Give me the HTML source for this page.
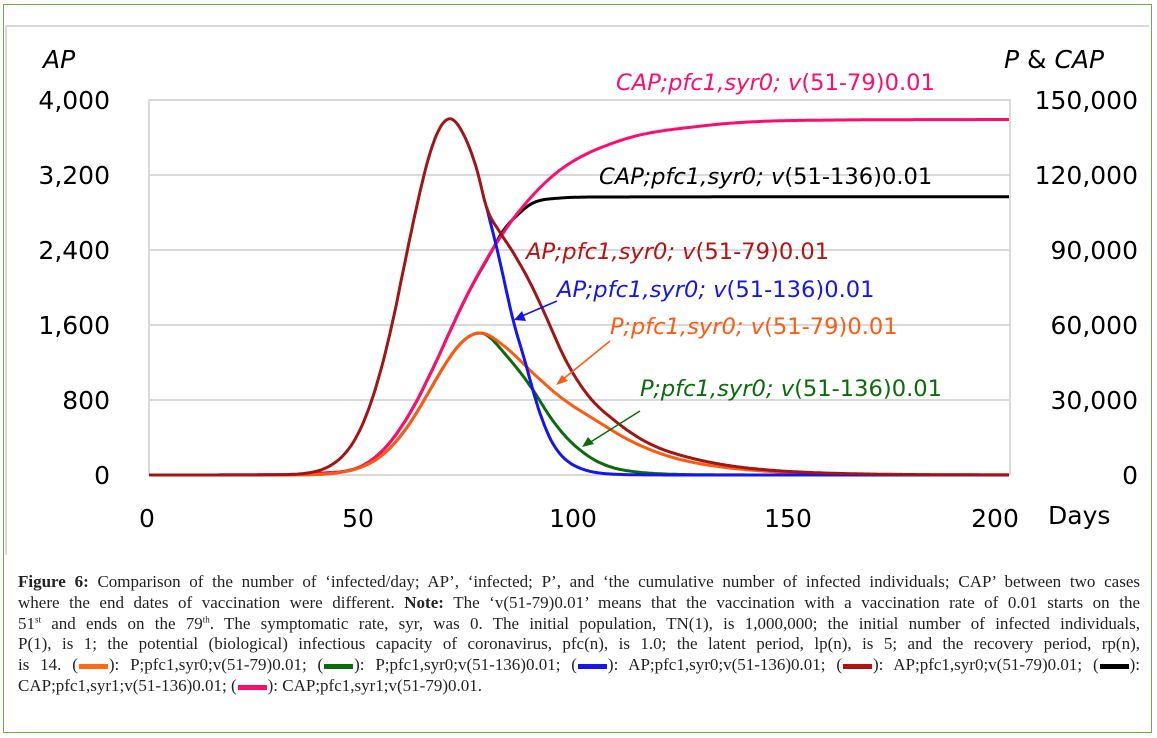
<!DOCTYPE html>
<html><head><meta charset="utf-8"><style>
body{margin:0;width:1157px;height:738px;background:#fff;position:relative;overflow:hidden;font-family:"DejaVu Sans",sans-serif}
#outer{position:absolute;left:3px;top:4px;width:1147px;height:727px;border:1px solid #70ad47}
#inner{position:absolute;left:5px;top:25px;width:1142px;height:528px;border:2px solid #d9d9d9;border-bottom:none;border-right:none}
#cap{position:absolute;left:18px;top:572px;width:1122px;font-family:"Liberation Serif",serif;font-size:17px;line-height:20.8px;color:#222}
#cap div{white-space:nowrap;text-align:justify;text-align-last:justify;height:20.8px}
#cap div.l{text-align-last:left}
.sw{display:inline-block;width:29px;height:5px;vertical-align:middle;margin:0 1px}
sup{font-size:9px;line-height:0}
</style></head><body>
<div id="outer"></div><div id="inner"></div>
<svg id="s" width="1157" height="560" style="position:absolute;left:0;top:0" font-family="DejaVu Sans, sans-serif"></svg>
<div id="cap">
<div><b>Figure 6:</b> Comparison of the number of ‘infected/day; AP’, ‘infected; P’, and ‘the cumulative number of infected individuals; CAP’ between two cases</div>
<div>where the end dates of vaccination were different. <b>Note:</b> The ‘v(51-79)0.01’ means that the vaccination with a vaccination rate of 0.01 starts on the</div>
<div>51<sup>st</sup> and ends on the 79<sup>th</sup>. The symptomatic rate, syr, was 0. The initial population, TN(1), is 1,000,000; the initial number of infected individuals,</div>
<div>P(1), is 1; the potential (biological) infectious capacity of coronavirus, pfc(n), is 1.0; the latent period, lp(n), is 5; and the recovery period, rp(n),</div>
<div>is 14. (<span class="sw" style="background:#ff6a13"></span>): P;pfc1,syr0;v(51-79)0.01; (<span class="sw" style="background:#0b6b0b"></span>): P;pfc1,syr0;v(51-136)0.01; (<span class="sw" style="background:#1515f0"></span>): AP;pfc1,syr0;v(51-136)0.01; (<span class="sw" style="background:#b01515"></span>): AP;pfc1,syr0;v(51-79)0.01; (<span class="sw" style="background:#000"></span>):</div>
<div class="l">CAP;pfc1,syr1;v(51-136)0.01; (<span class="sw" style="background:#ff0d6e"></span>): CAP;pfc1,syr1;v(51-79)0.01.</div>
</div>
<script>
const s=document.getElementById('s');let h='';
const X=d=>149+d*4.3, YL=v=>475-v/800*75, YR=v=>475-v/150000*375;
for(let i=0;i<=5;i++){const y=100+i*75;h+=`<line x1="149" y1="${y}" x2="1010" y2="${y}" stroke="#d9d9d9" stroke-width="2"/>`;}
h+=`<line x1="149" y1="99" x2="149" y2="475" stroke="#d9d9d9" stroke-width="2"/><line x1="1010" y1="99" x2="1010" y2="475" stroke="#d9d9d9" stroke-width="2"/>`;
const L=['0','800','1,600','2,400','3,200','4,000'],R=['0','30,000','60,000','90,000','120,000','150,000'];
for(let i=0;i<=5;i++){const y=475-i*75+9;h+=`<text x="110" y="${y}" font-size="25" text-anchor="end">${L[i]}</text><text x="1138" y="${y}" font-size="25" text-anchor="end">${R[i]}</text>`;}
[0,50,100,150,200].forEach((d,i)=>h+=`<text x="${[147,358,573,788,995][i]}" y="527" font-size="25" text-anchor="middle">${d}</text>`);
h+=`<text x="1048" y="524" font-size="25">Days</text><text x="43" y="68" font-size="25" font-style="italic">AP</text><text x="1004" y="68" font-size="25"><tspan font-style="italic">P</tspan> &amp; <tspan font-style="italic">CAP</tspan></text>`;
function mono(P){const n=P.length,xs=P.map(p=>p[0]),ys=P.map(p=>p[1]),dl=[],m=[];
for(let i=0;i<n-1;i++)dl.push((ys[i+1]-ys[i])/(xs[i+1]-xs[i]));
m[0]=dl[0];m[n-1]=dl[n-2];for(let i=1;i<n-1;i++)m[i]=dl[i-1]*dl[i]<=0?0:(dl[i-1]+dl[i])/2;
for(let i=0;i<n-1;i++){if(dl[i]==0){m[i]=m[i+1]=0;continue;}const a=m[i]/dl[i],b=m[i+1]/dl[i],q=a*a+b*b;if(q>9){const t=3/Math.sqrt(q);m[i]=t*a*dl[i];m[i+1]=t*b*dl[i];}}
return x=>{let i=0;while(i<n-2&&x>xs[i+1])i++;const hh=xs[i+1]-xs[i],t=(x-xs[i])/hh,t2=t*t,t3=t2*t;
return (2*t3-3*t2+1)*ys[i]+(t3-2*t2+t)*hh*m[i]+(-2*t3+3*t2)*ys[i+1]+(t3-t2)*hh*m[i+1];};}
const logm=P=>{const f=mono(P.map(p=>[p[0],Math.log(p[1])]));return d=>Math.exp(f(d));};
const gl=(amp,m,sd,arr)=>arr.map(d=>[d,amp*Math.exp(-(d-m)*(d-m)/(2*sd*sd))]);
const redL=gl(3800,70,10.3,[0,10,20,30,40,46,52,58,62,66]).concat([[70,3800],[73.5,3600],[76.3,3250],[78.6,2840]]);
const red=logm(redL.concat([[81.6,2590],[85,2350],[89.3,1990],[93,1620],[97.2,1200],[103,800],[109,555],[118,300],[128,160],[150,35],[175,6],[200,1]]));
const blue=logm(redL.concat([[81.5,2300],[84.7,1650],[88,1120],[91,650],[94,330],[97,160],[101,60],[105,20],[115,1.5],[130,0.05],[200,0.0001]]));
const pL=gl(1515,77,11.5,[0,10,20,30,40,48,56,62,67,71,74]).concat([[77,1515]]);
const por=logm(pL.concat([[83,1360],[89.3,1088],[96,820],[104.9,555],[114,320],[124,160],[137,65],[150,25],[175,4],[200,1]]));
const pgr=logm(pL.concat([[83,1280],[89.3,907],[93,640],[97,405],[101,240],[105,128],[110,55],[115,25],[130,2],[200,0.0001]]));
const common=[[0,0],[30,100],[40,700],[49,3200],[55,11000],[60.7,24800],[66,42500],[70,57500],[74,72000],[80,90500]];
const pink=mono(common.concat([[86.3,106000],[95.6,122000],[110,134000],[128,139500],[150,141800],[200,142200]]));
const blk=mono(common.concat([[82.3,97500],[86,104500],[89.3,108800],[95,110700],[105,111200],[200,111300]]));
function path(f,Y,a,b){let p='';for(let d=a;d<=b+1e-9;d+=0.5)p+=(p?'L':'M')+X(d).toFixed(1)+','+Y(f(d)).toFixed(1);return p;}
const ln=(p,c)=>h+=`<path d="${p}" fill="none" stroke="${c}" stroke-width="3" stroke-linejoin="round"/>`;
ln(path(blk,YR,0,200),'#000');ln(path(pink,YR,0,200),'#ff0d6e');
ln(path(pgr,YL,0,200),'#0b6b0b');ln(path(por,YL,0,200),'#ff5a13');
ln(path(blue,YL,78.5,200),'#1515f0');ln(path(red,YL,0,200),'#a01515');
h+=`<line x1="610" y1="341" x2="562" y2="380" stroke="#ff5a13" stroke-width="1.5"/><polygon points="556,385 568,381 562,375" fill="#ff5a13"/>`;
h+=`<line x1="640" y1="411" x2="589" y2="443" stroke="#0b6b0b" stroke-width="1.5"/><polygon points="582,447 594,444 588,437" fill="#0b6b0b"/>`;
h+=`<line x1="557" y1="301" x2="522" y2="316" stroke="#1515f0" stroke-width="1.5"/><polygon points="514,320 526,321 522,311" fill="#1515f0"/>`;
const lab=(x,y,c,a,b)=>h+=`<text x="${x}" y="${y}" font-size="22.6" fill="${c}"><tspan font-style="italic">${a}</tspan>${b}</text>`;
lab(616,90,'#ff0d6e','CAP;pfc1,syr0; v','(51-79)0.01');
lab(599,184,'#000','CAP;pfc1,syr0; v','(51-136)0.01');
lab(526,259,'#b01515','AP;pfc1,syr0; v','(51-79)0.01');
lab(557,297,'#1515f0','AP;pfc1,syr0; v','(51-136)0.01');
lab(610,334,'#ff5a13','P;pfc1,syr0; v','(51-79)0.01');
lab(640,396,'#0b6b0b','P;','<tspan font-style="italic">pfc1,syr0; v</tspan>(51-136)0.01');
s.innerHTML=h;
</script>
</body></html>
